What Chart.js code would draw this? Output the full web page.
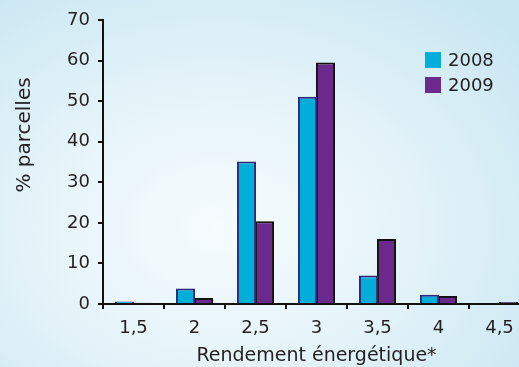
<!DOCTYPE html>
<html><head><meta charset="utf-8">
<script src="https://cdn.jsdelivr.net/npm/chart.js@4/dist/chart.umd.min.js"></script>
<style>
html,body{margin:0;padding:0;overflow:hidden;width:519px;height:367px;}
body{background:radial-gradient(ellipse 75% 80% at 42% 62%, #f6fbfd 0%, #e6f4f9 45%, #c9e7f2 100%);}
#wrap{position:absolute;left:0;top:0;width:530px;height:367px;}
</style></head>
<body><div id="wrap"><canvas id="c"></canvas></div>
<script>
const categories = ['1,5','2','2,5','3','3,5','4','4,5'];
const seriesNames = ['2008','2009'];
const values2008 = [0.6, 3.8, 35.1, 51.1, 7.0, 2.3, 0.2];
const values2009 = [0.3, 1.5, 20.4, 59.5, 16.0, 2.0, 0.5];
const yTicks = [0,10,20,30,40,50,60,70];
const xTitle = 'Rendement énergétique*';
const yTitle = '% parcelles';

const FONT = '"DejaVu Sans", sans-serif';
const TXT = '#231f20';

const overlay = {
  id:'overlay',
  afterDraw(chart){
    const ctx = chart.ctx;
    ctx.save();
    ctx.fillStyle = TXT;
    ctx.font = '20px ' + FONT;
    ctx.textAlign = 'center';
    ctx.textBaseline = 'middle';
    ctx.translate(25, 135);
    ctx.rotate(-Math.PI/2);
    ctx.fillText(yTitle, 0, 0);
    ctx.restore();
    ctx.save();
    chart.data.datasets.forEach((ds,i)=>{
      const y = 52 + i*25;
      ctx.fillStyle = ds.backgroundColor;
      ctx.fillRect(425, y, 16, 16);
      ctx.fillStyle = TXT;
      ctx.font = '18px ' + FONT;
      ctx.textAlign = 'left';
      ctx.textBaseline = 'middle';
      ctx.fillText(ds.label, 448, y + 9);
    });
    ctx.restore();
  }
};

const barOpts = {categoryPercentage:0.59, barPercentage:1.06, borderWidth:2, borderSkipped:'bottom'};

new Chart(document.getElementById('c'), {
  type:'bar',
  data:{
    labels: categories,
    datasets:[
      Object.assign({label: seriesNames[0], data: values2008, backgroundColor:'#00afd9', borderColor:'#2e2a7a'}, barOpts),
      Object.assign({label: seriesNames[1], data: values2009, backgroundColor:'#6b2a8b', borderColor:'#111111'}, barOpts)
    ]
  },
  options:{
    responsive:true, maintainAspectRatio:false, animation:false,
    layout:{padding:{top:20,right:0,bottom:0,left:0}},
    plugins:{legend:{display:false}, tooltip:{enabled:false}},
    scales:{
      x:{
        grid:{display:true, drawOnChartArea:false, drawTicks:true, tickLength:5, color:'#111', lineWidth:2, offset:true},
        border:{display:true, color:'#111', width:2},
        ticks:{color:TXT, font:{family:FONT, size:18}, padding:9, maxRotation:0},
        title:{display:true, text:xTitle, color:TXT, font:{family:FONT, size:19}, padding:{top:0,bottom:0}},
        afterFit(s){ s.height = 63; }
      },
      y:{
        min:0, max:70,
        afterBuildTicks(s){ s.ticks = yTicks.map(v=>({value:v})); },
        grid:{display:true, drawOnChartArea:false, drawTicks:true, tickLength:5, color:'#111', lineWidth:2},
        border:{display:true, color:'#111', width:2},
        ticks:{color:TXT, font:{family:FONT, size:18}, padding:8},
        afterFit(s){ s.width = 103; }
      }
    }
  },
  plugins:[overlay]
});
</script></body></html>
